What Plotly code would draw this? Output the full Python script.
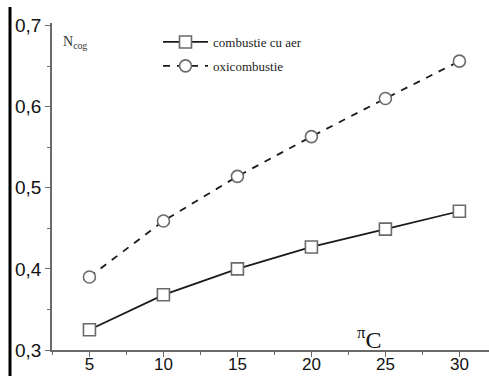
import plotly.graph_objects as go

# Compression ratio pi_C
pi_c = [5, 10, 15, 20, 25, 30]
# Cogeneration efficiency N_cog
n_aer = [0.325, 0.368, 0.400, 0.427, 0.449, 0.471]
n_oxi = [0.390, 0.459, 0.514, 0.563, 0.610, 0.656]

x_ticks = [5, 10, 15, 20, 25, 30]
y_ticks = [0.3, 0.4, 0.5, 0.6, 0.7]

W, H = 489, 376
ML, MR, MT, MB = 52, 0, 23, 26

SERIF = "Liberation Serif"
SANS = "Liberation Sans"

fig = go.Figure()
fig.add_trace(go.Scatter(
    x=pi_c, y=n_aer, mode="lines+markers", name="combustie cu aer",
    legendgroup="a",
    line=dict(color="#1a1a1a", width=1.8),
    marker=dict(symbol="square", size=12, color="white",
                line=dict(color="#6a6a6a", width=1.6)),
))
fig.add_trace(go.Scatter(
    x=pi_c, y=n_oxi, mode="lines+markers", name="oxicombustie",
    legendgroup="b",
    line=dict(color="#1a1a1a", width=1.8, dash="7px,7px"),
    marker=dict(symbol="circle", size=12, color="white",
                line=dict(color="#6a6a6a", width=1.6)),
))

axis_common = dict(
    showline=True, linecolor="#6a6a6a", linewidth=1.5,
    ticks="outside", ticklen=5, tickwidth=1.3, tickcolor="#6a6a6a",
    showgrid=False, zeroline=False, automargin=False,
)

fig.update_xaxes(
    range=[2.47, 32.0], tickvals=x_ticks,
    ticklabelstandoff=-7,
    tickfont=dict(family=SANS, size=17, color="#111"),
    minor=dict(ticks="outside", ticklen=3, tickwidth=1.3, tickcolor="#6a6a6a",
               tick0=2.5, dtick=2.5),
    **axis_common,
)
fig.update_yaxes(
    range=[0.3, 0.703], tickvals=y_ticks, tickformat=".1f",
    tickfont=dict(family=SANS, size=19, color="#111"),
    minor=dict(ticks="outside", ticklen=3, tickwidth=1.3, tickcolor="#6a6a6a",
               tick0=0.35, dtick=0.1),
    **axis_common,
)

pw = W - ML - MR
ph = H - MT - MB

# Black frame line on the left edge of the page
fig.add_shape(type="line", xref="paper", yref="paper",
              x0=(10 - ML) / pw, x1=(10 - ML) / pw,
              y0=1 + (MT - 7) / ph, y1=-(MB) / ph,
              line=dict(color="black", width=3))

fig.add_annotation(
    xref="paper", yref="paper", x=(61 - ML) / pw, y=1 - (42 - MT) / ph,
    text="N<sub>cog</sub>", showarrow=False, xanchor="left", yanchor="middle",
    font=dict(family=SERIF, size=14, color="#333"),
)
fig.add_annotation(
    xref="paper", yref="paper", x=(355 - ML) / pw, y=1 - (338 - MT) / ph,
    text="<sup>π</sup>C",
    showarrow=False, xanchor="left", yanchor="middle",
    font=dict(family=SERIF, size=24, color="#111"),
)

fig.update_layout(
    width=W, height=H,
    margin=dict(l=ML, r=MR, t=MT, b=MB, autoexpand=False),
    paper_bgcolor="white", plot_bgcolor="white",
    separators=",.",
    showlegend=True,
    legend=dict(
        x=(158 - ML) / pw, y=1 - (27 - MT) / ph, xanchor="left", yanchor="top",
        bgcolor="rgba(0,0,0,0)", tracegroupgap=4, itemwidth=45,
        font=dict(family=SERIF, size=13, color="#222"),
    ),
)

fig.write_html("out.html")
